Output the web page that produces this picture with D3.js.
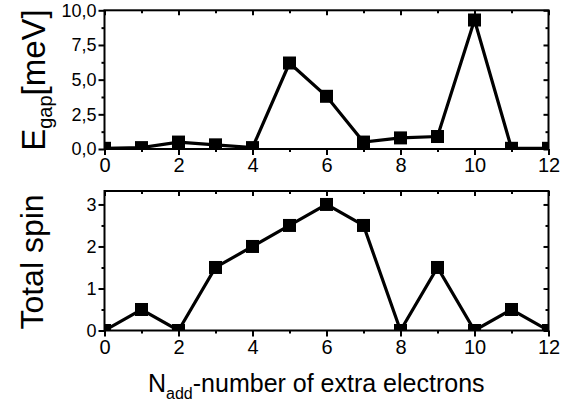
<!DOCTYPE html>
<html>
<head>
  <meta charset="utf-8">
  <script src="https://d3js.org/d3.v7.min.js"></script>
  <style>
    body { margin: 0; background: #fff; }
    text { font-family: "Liberation Sans", Arial, Helvetica, sans-serif; fill: #000; }
  </style>
</head>
<body>
<script>
  // data
  var nAdd = [0, 1, 2, 3, 4, 5, 6, 7, 8, 9, 10, 11, 12];
  var eGap = [0.05, 0.1, 0.5, 0.3, 0.1, 6.2, 3.8, 0.5, 0.8, 0.9, 9.3, 0.05, 0.05];
  var totalSpin = [0, 0.5, 0, 1.5, 2, 2.5, 3, 2.5, 0, 1.5, 0, 0.5, 0];
  var xTicks = [0, 2, 4, 6, 8, 10, 12];
  var eTicks = [0, 2.5, 5, 7.5, 10];
  var eTickLabels = ["0,0", "2,5", "5,0", "7,5", "10,0"];
  var spinTicks = [0, 1, 2, 3];

  var W = 572, H = 403;
  var svg = d3.select("body").append("svg")
      .attr("width", W).attr("height", H);

  var x = d3.scaleLinear().domain([0, 12]).range([104.5, 548.5]);

  function panel(id, values, yDomain, yRange, majors, labels, minorStep) {
    var y = d3.scaleLinear().domain(yDomain).range(yRange);
    var g = svg.append("g");
    var x0 = x.range()[0], x1 = x.range()[1];
    var yb = yRange[0], yt = yRange[1];

    svg.append("clipPath").attr("id", id)
      .append("rect").attr("x", x0).attr("y", yt)
      .attr("width", x1 - x0).attr("height", yb - yt);

    // minor values
    var xMinor = d3.range(0, 13, 1).filter(function (d) { return xTicks.indexOf(d) < 0; });
    var yMinor = d3.range(yDomain[0], yDomain[1] + 1e-9, minorStep)
      .filter(function (d) { return majors.indexOf(+d.toFixed(3)) < 0; });

    // bottom axis: outward ticks
    g.append("g").attr("transform", "translate(0," + yb + ")")
      .call(d3.axisBottom(x).tickValues(xTicks).tickSize(6).tickPadding(3).tickFormat(d3.format("d")))
      .call(function (a) {
        a.select(".domain").remove();
        a.selectAll("line").attr("stroke-width", 2);
        a.selectAll("text").style("font-size", "20px");
      });
    g.append("g").attr("transform", "translate(0," + yb + ")")
      .call(d3.axisBottom(x).tickValues(xMinor).tickSize(3).tickFormat(""))
      .call(function (a) { a.select(".domain").remove(); a.selectAll("line").attr("stroke-width", 2); });

    // top axis: inward ticks
    g.append("g").attr("transform", "translate(0," + yt + ")")
      .call(d3.axisBottom(x).tickValues(xTicks).tickSize(5).tickFormat(""))
      .call(function (a) { a.select(".domain").remove(); a.selectAll("line").attr("stroke-width", 2); });
    g.append("g").attr("transform", "translate(0," + yt + ")")
      .call(d3.axisBottom(x).tickValues(xMinor).tickSize(3).tickFormat(""))
      .call(function (a) { a.select(".domain").remove(); a.selectAll("line").attr("stroke-width", 2); });

    // left axis: outward ticks
    g.append("g").attr("transform", "translate(" + x0 + ",0)")
      .call(d3.axisLeft(y).tickValues(majors).tickSize(6).tickPadding(2)
        .tickFormat(function (d, i) { return labels[i]; }))
      .call(function (a) {
        a.select(".domain").remove();
        a.selectAll("line").attr("stroke-width", 2);
        a.selectAll("text").style("font-size", "18px");
      });
    g.append("g").attr("transform", "translate(" + x0 + ",0)")
      .call(d3.axisLeft(y).tickValues(yMinor).tickSize(3).tickFormat(""))
      .call(function (a) { a.select(".domain").remove(); a.selectAll("line").attr("stroke-width", 2); });

    // right axis: inward ticks
    g.append("g").attr("transform", "translate(" + x1 + ",0)")
      .call(d3.axisLeft(y).tickValues(majors).tickSize(5).tickFormat(""))
      .call(function (a) { a.select(".domain").remove(); a.selectAll("line").attr("stroke-width", 2); });
    g.append("g").attr("transform", "translate(" + x1 + ",0)")
      .call(d3.axisLeft(y).tickValues(yMinor).tickSize(3).tickFormat(""))
      .call(function (a) { a.select(".domain").remove(); a.selectAll("line").attr("stroke-width", 2); });

    // frame
    g.append("rect").attr("x", x0).attr("y", yt)
      .attr("width", x1 - x0).attr("height", yb - yt)
      .attr("fill", "none").attr("stroke", "#000").attr("stroke-width", 2);

    var pts = nAdd.map(function (n, i) { return [n, values[i]]; });
    var plot = g.append("g").attr("clip-path", "url(#" + id + ")");
    plot.append("path").datum(pts)
      .attr("d", d3.line().x(function (d) { return x(d[0]); }).y(function (d) { return y(d[1]); }))
      .attr("fill", "none").attr("stroke", "#000").attr("stroke-width", 3.2);
    plot.selectAll("rect.m").data(pts).enter().append("rect")
      .attr("class", "m")
      .attr("x", function (d) { return x(d[0]) - 6.5; })
      .attr("y", function (d) { return y(d[1]) - 6.5; })
      .attr("width", 13).attr("height", 13)
      .attr("fill", "#000");
    return y;
  }

  panel("clipTop", eGap, [0, 10], [149, 10.3], eTicks, eTickLabels, 1.25);
  panel("clipBot", totalSpin, [0, 3.32], [330.5, 191], spinTicks, spinTicks.map(String), 0.5);

  // y titles
  var t1 = svg.append("text")
    .attr("transform", "translate(45,80) rotate(-90)")
    .attr("text-anchor", "middle")
    .style("font-size", "33px");
  t1.append("tspan").text("E");
  t1.append("tspan").attr("dy", 7).style("font-size", "20px").text("gap");
  t1.append("tspan").attr("dy", -7).text("[meV]");

  svg.append("text")
    .attr("transform", "translate(43,262) rotate(-90)")
    .attr("text-anchor", "middle")
    .style("font-size", "32px")
    .text("Total spin");

  // x title
  var t3 = svg.append("text")
    .attr("x", 148).attr("y", 392)
    .style("font-size", "25px");
  t3.append("tspan").text("N");
  t3.append("tspan").attr("dy", 7).style("font-size", "16px").text("add");
  t3.append("tspan").attr("dy", -7).text("-number of extra electrons");
</script>
</body>
</html>
